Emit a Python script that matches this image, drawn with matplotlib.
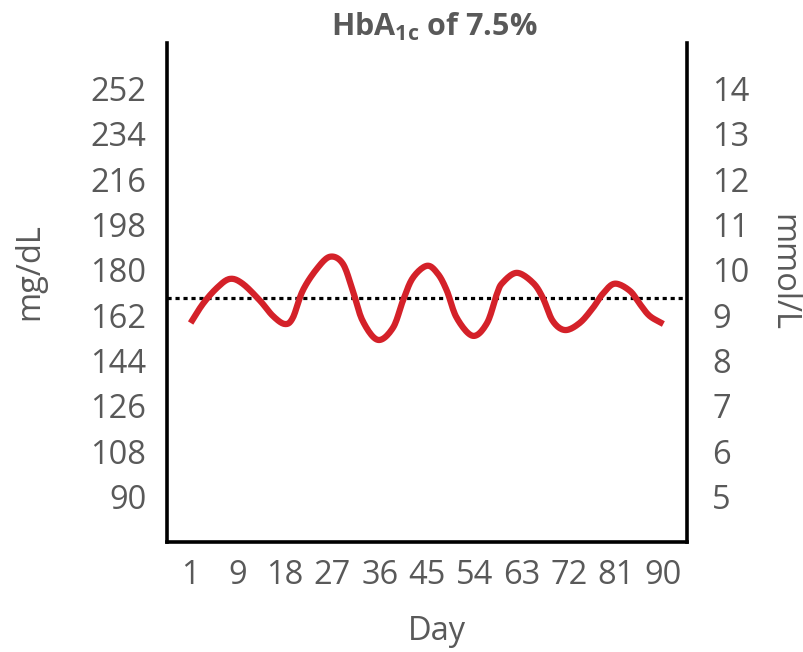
import matplotlib
matplotlib.use("Agg")
import matplotlib.pyplot as plt
import numpy as np

plt.rcParams['font.family'] = ['Open Sans', 'DejaVu Sans']
plt.rcParams['mathtext.fontset'] = 'custom'
plt.rcParams['mathtext.rm'] = 'Open Sans'
plt.rcParams['mathtext.bf'] = 'Open Sans:bold'

# Category labels on the day axis
day_labels = ["1", "9", "18", "27", "36", "45", "54", "63", "72", "81", "90"]

# Glucose trace: position along the day axis (category units) and mg/dL value
trace_pos = [0.0, 0.26, 0.56, 0.83, 1.10, 1.47, 1.74, 1.99, 2.16, 2.37, 2.67, 2.95,
             3.22, 3.43, 3.64, 3.96, 4.28, 4.49, 4.70, 5.00, 5.23, 5.42, 5.63, 5.97,
             6.27, 6.48, 6.60, 6.90, 7.24, 7.45, 7.66, 7.92, 8.23, 8.51, 8.72, 8.97,
             9.29, 9.50, 9.71, 10.0]
trace_mgdl = [158.9, 166.5, 172.9, 176.4, 174.5, 167.7, 161.7, 158.5, 160.9, 171.7,
              180.4, 185.2, 182.4, 171.7, 159.7, 152.2, 157.0, 167.7, 176.8, 181.6,
              178.4, 171.7, 160.9, 153.8, 158.9, 170.5, 174.9, 178.8, 174.9, 168.9,
              159.7, 156.1, 158.9, 164.9, 170.5, 174.5, 171.7, 166.5, 161.7, 158.5]

# Estimated average glucose for HbA1c 7.5 %
mean_glucose = 169

mgdl_ticks = [90, 108, 126, 144, 162, 180, 198, 216, 234, 252]
mmol_ticks = [5, 6, 7, 8, 9, 10, 11, 12, 13, 14]
MGDL_PER_MMOL = 18.0


def smooth_path(x, y, steps=12):
    """Catmull-Rom curve through the given points."""
    x = np.asarray(x, float)
    y = np.asarray(y, float)
    px = np.concatenate([[2 * x[0] - x[1]], x, [2 * x[-1] - x[-2]]])
    py = np.concatenate([[2 * y[0] - y[1]], y, [2 * y[-1] - y[-2]]])
    ox, oy = [], []
    t = np.linspace(0, 1, steps, endpoint=False)
    for i in range(1, len(px) - 2):
        for arr, out in ((px, ox), (py, oy)):
            p0, p1, p2, p3 = arr[i - 1], arr[i], arr[i + 1], arr[i + 2]
            out.extend(0.5 * ((2 * p1) + (-p0 + p2) * t
                              + (2 * p0 - 5 * p1 + 4 * p2 - p3) * t ** 2
                              + (-p0 + 3 * p1 - 3 * p2 + p3) * t ** 3))
    ox.append(x[-1])
    oy.append(y[-1])
    return np.array(ox), np.array(oy)


text_color = "#595959"
fs = 23.5

fig = plt.figure(figsize=(8.04, 6.52), dpi=100)
ax = fig.add_axes([167 / 804, 1 - 542 / 652, 520 / 804, 499 / 652])

sx, sy = smooth_path(trace_pos, trace_mgdl)
ax.plot(sx, sy, color="#D42129", lw=4.5, solid_capstyle="butt", zorder=3)
ax.axhline(mean_glucose, color="black", lw=2.3, linestyle=(0, (1.3, 1.2)), zorder=2)

ax.set_xlim(-0.5, len(day_labels) - 0.5)
ax.set_ylim(72, 270)
ax.set_xticks(range(len(day_labels)))
ax.set_xticklabels(day_labels)
ax.set_yticks(mgdl_ticks)

for side in ("left", "right", "bottom"):
    ax.spines[side].set_linewidth(2.6)
    ax.spines[side].set_color("black")
ax.spines["top"].set_visible(False)

ax.tick_params(axis="y", length=0, pad=15, labelsize=fs, labelcolor=text_color)
ax.tick_params(axis="x", length=0, pad=12, labelsize=fs, labelcolor=text_color)

ax2 = ax.twinx()
ax2.set_ylim(72 / MGDL_PER_MMOL, 270 / MGDL_PER_MMOL)
ax2.set_yticks(mmol_ticks)
ax2.tick_params(axis="y", length=0, pad=18, labelsize=fs, labelcolor=text_color)
for side in ("left", "right", "bottom", "top"):
    ax2.spines[side].set_visible(False)

fig.text(30 / 804, 1 - 272 / 652, "mg/dL", rotation=90, ha="center", va="center",
         fontsize=fs, color=text_color)
fig.text(783 / 804, 1 - 272 / 652, "mmol/L", rotation=270, ha="center", va="center",
         fontsize=fs, color=text_color)
fig.text(437 / 804, 1 - 632 / 652, "Day", ha="center", va="center",
         fontsize=fs, color=text_color)
fig.text(434 / 804, 1 - 27 / 652, r"HbA$_{\mathbf{1c}}$ of 7.5%", ha="center", va="center",
         fontsize=22, fontweight="bold", color=text_color)

fig.savefig("out.png", dpi=100)
